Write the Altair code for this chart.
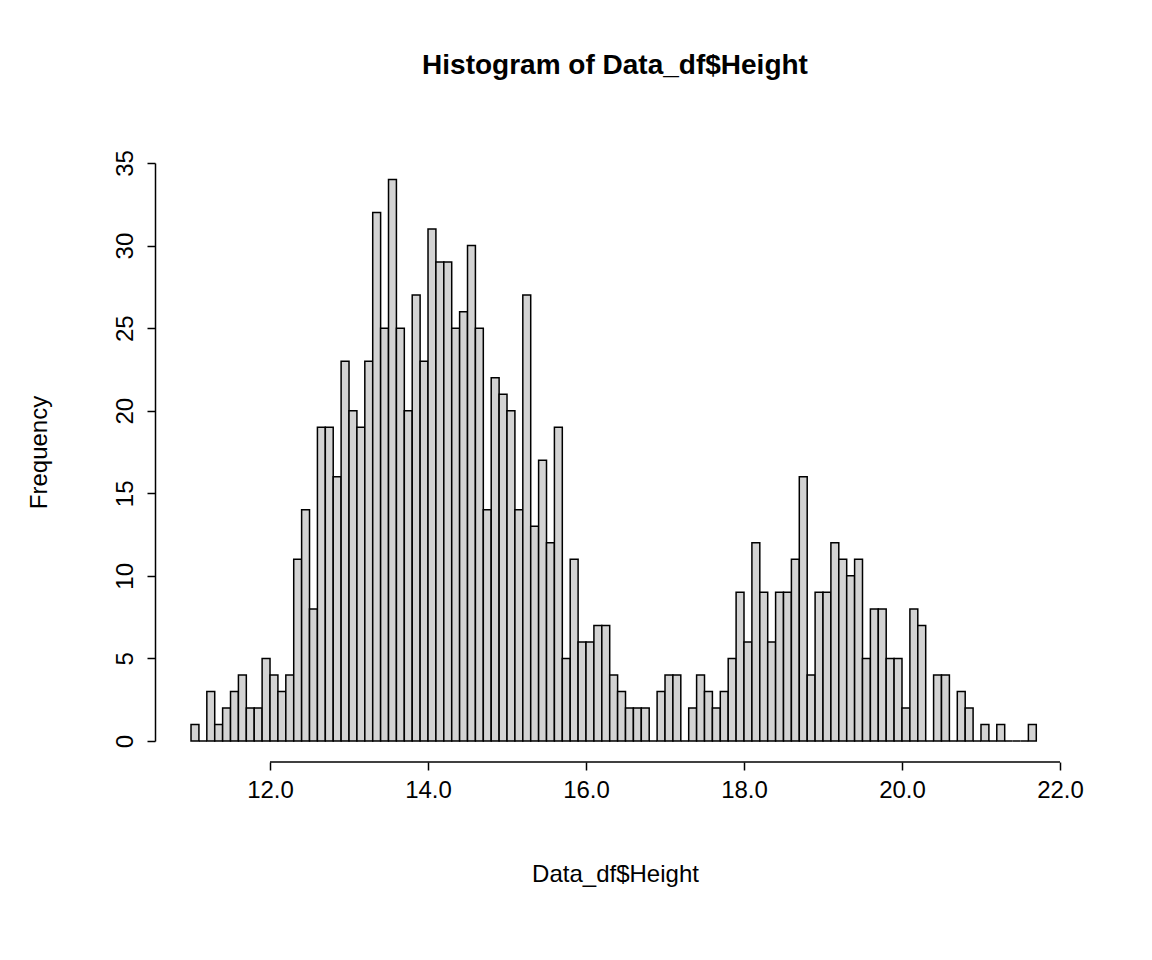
import pandas as pd
import altair as alt

bin_start = 11.0
bin_width = 0.1
counts = [
    1, 0, 3, 1, 2, 3, 4, 2, 2, 5,
    4, 3, 4, 11, 14, 8, 19, 19, 16, 23,
    20, 19, 23, 32, 25, 34, 25, 20, 27, 23,
    31, 29, 29, 25, 26, 30, 25, 14, 22, 21,
    20, 14, 27, 13, 17, 12, 19, 5, 11, 6,
    6, 7, 7, 4, 3, 2, 2, 2, 0, 3,
    4, 4, 0, 2, 4, 3, 2, 3, 5, 9,
    6, 12, 9, 6, 9, 9, 11, 16, 4, 9,
    9, 12, 11, 10, 11, 5, 8, 8, 5, 5,
    2, 8, 7, 0, 4, 4, 0, 3, 2, 0,
    1, 0, 1, 0, 0, 0, 1,
]
x_ticks = [12, 14, 16, 18, 20, 22]
y_ticks = [0, 5, 10, 15, 20, 25, 30, 35]

df = pd.DataFrame({
    "lo": [round(bin_start + i * bin_width, 2) for i in range(len(counts))],
    "count": counts,
})
df["hi"] = df["lo"] + bin_width

W, H = 920, 578
FONT = "Liberation Sans"

xs = alt.Scale(domain=[10.544, 22.19], nice=False, zero=False)
ys = alt.Scale(domain=[0, 35], nice=False)

bars = alt.Chart(df).mark_rect(fill="#d3d3d3", stroke="black", strokeWidth=1.5).encode(
    x=alt.X("lo:Q", scale=xs, title="Data_df$Height",
            axis=alt.Axis(values=x_ticks, domain=False, offset=21, tickSize=8,
                          tickColor="black", tickWidth=1.5, grid=False,
                          labelFontSize=24, labelPadding=8, labelColor="black",
                          titleFontSize=24, titleFontWeight="normal", titlePadding=60,
                          titleColor="black")),
    x2="hi:Q",
    y=alt.Y("count:Q", scale=ys, title="Frequency",
            axis=alt.Axis(values=y_ticks, domainColor="black", domainWidth=1.5,
                          tickSize=8, tickColor="black", tickWidth=1.5, grid=False,
                          labelAngle=-90, labelAlign="center", labelBaseline="bottom",
                          labelFontSize=24, labelPadding=10, labelColor="black",
                          titleFontSize=24, titleFontWeight="normal", titlePadding=62,
                          titleColor="black")),
    y2=alt.datum(0),
)

axis_line = alt.Chart(pd.DataFrame({"a": [x_ticks[0]], "b": [x_ticks[-1]]})).mark_rule(
    color="black", strokeWidth=1.5
).encode(x=alt.X("a:Q", scale=xs), x2="b:Q", y=alt.value(H + 21))

chart = (bars + axis_line).properties(
    width=W, height=H,
    title=alt.TitleParams("Histogram of Data_df$Height", fontSize=28, font=FONT,
                          fontWeight="bold", color="black", offset=70),
    autosize=alt.AutoSizeParams(type="none"),
    padding={"left": 147, "top": 155, "right": 60, "bottom": 200},
).configure(font=FONT).configure_view(stroke=None)

chart.save("out.html", embed_options={"renderer": "svg", "actions": False})
